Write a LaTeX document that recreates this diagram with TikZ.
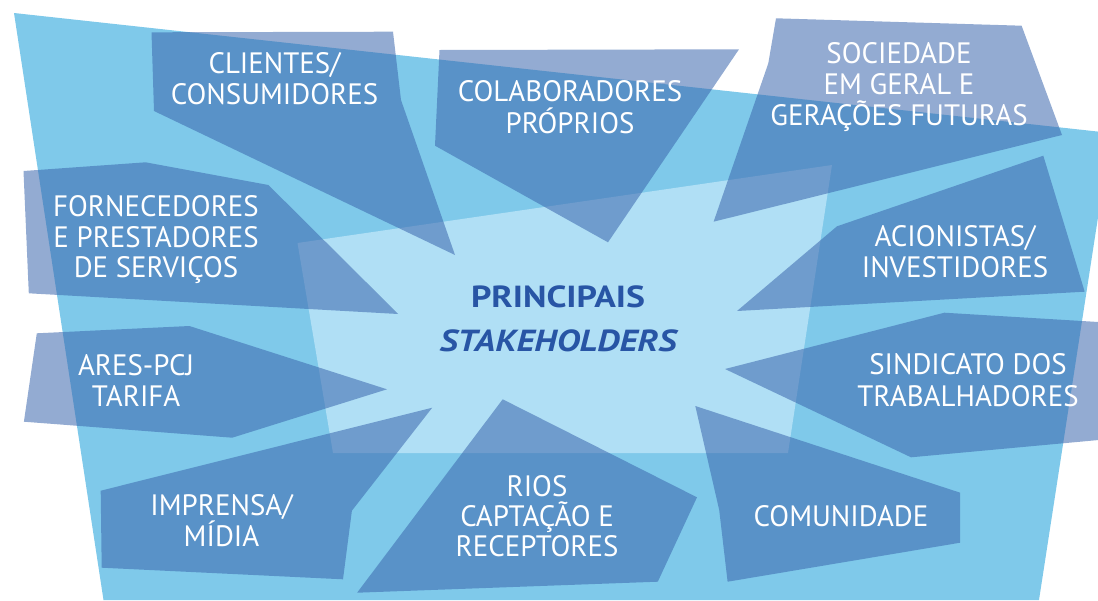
\documentclass[tikz,border=0pt]{standalone}
\usepackage{fontspec}
\setmainfont{PT Sans}[FakeStretch=0.98]
\newfontfamily\ptwide{PT Sans}[FakeStretch=1.17]
\definecolor{lb}{RGB}{127,201,234}
\definecolor{cz}{RGB}{176,223,245}
\definecolor{db}{RGB}{58,102,173}
\definecolor{tb}{RGB}{40,85,165}
\newcommand\mlines[2][31pt]{\vtop{\lineskiplimit=-100pt\relax\baselineskip=#1\relax\halign{\hfil##\hfil\cr#2\crcr}}}
\tikzset{
  bgblue/.style={fill=lb, draw=none},
  centerzone/.style={fill=cz, draw=none},
  stakebox/.style={fill=db, fill opacity=0.55, draw=none},
  lbl/.style={text=white, anchor=base, inner sep=0pt, font=\fontsize{29.5}{31}\selectfont},
  mainlbl/.style={text=tb, anchor=base, inner sep=0pt, font=\ptwide\fontsize{30.5}{44}\selectfont}
}
\begin{document}
\begin{tikzpicture}[x=1pt,y=-1pt]
\useasboundingbox (0,0) rectangle (1098,600);
\clip (0,0) rectangle (1098,600);
% backgrounds
\fill[bgblue] (14,13) -- (1111,133) -- (1039,600) -- (103.5,600) -- cycle;
\fill[centerzone] (297.5,243) -- (832,165) -- (788,453) -- (333,453) -- cycle;
% stakeholder shapes
\fill[stakebox] (151.5,32.3) -- (393,31.7) -- (401,100) -- (455,255) -- (154,111) -- cycle;
\fill[stakebox] (439.5,50) -- (739,49.3) -- (608,242.3) -- (435,145.7) -- cycle;
\fill[stakebox] (776,18.3) -- (1021.6,25.7) -- (1062,135) -- (713.6,221.7) -- (768.3,63.3) -- cycle;
\fill[stakebox] (1043.3,155.7) -- (1084.7,291.7) -- (737,311) -- (837,226.3) -- cycle;
\fill[stakebox] (725,369) -- (944.4,312.7) -- (1115,323) -- (1115,438.5) -- (911,457.3) -- cycle;
\fill[stakebox] (695.3,406) -- (960.2,492.7) -- (960.2,542.7) -- (727.6,581.7) -- (719.2,510) -- cycle;
\fill[stakebox] (502.7,399.3) -- (697,497.3) -- (657.8,581.7) -- (357.1,592.7) -- cycle;
\fill[stakebox] (100.7,490.7) -- (432.2,407.7) -- (351.9,510.7) -- (343,579.3) -- (101.7,567.7) -- cycle;
\fill[stakebox] (36.8,333.3) -- (189.4,326) -- (387,389.3) -- (232.2,437.7) -- (23.9,421.7) -- cycle;
\fill[stakebox] (23.5,171) -- (145.6,162.3) -- (268.4,185) -- (398.2,314) -- (28.8,293.3) -- cycle;
% labels
\node[lbl] (cli) at (274.5,73.3) {\mlines[30.7pt]{CLIENTES/\cr CONSUMIDORES}};
\node[lbl] (col) at (570,101.7) {\mlines[31.6pt]{COLABORADORES\cr PRÓPRIOS}};
\node[lbl] (soc) at (899,63.3) {\mlines[30.9pt]{SOCIEDADE\cr EM GERAL E\cr GERAÇÕES FUTURAS}};
\node[lbl] (aci) at (955,246.7) {\mlines[30.6pt]{ACIONISTAS/\cr INVESTIDORES}};
\node[lbl] (sin) at (968,374) {\mlines[32pt]{SINDICATO DOS\cr TRABALHADORES}};
\node[lbl] (com) at (841,526) {COMUNIDADE};
\node[lbl] (rio) at (537,496.7) {\mlines[30pt]{RIOS\cr CAPTAÇÃO E\cr RECEPTORES}};
\node[lbl] (imp) at (221.5,515) {\mlines[31pt]{IMPRENSA/\cr MÍDIA}};
\node[lbl] (are) at (136,375) {\mlines[31pt]{ARES-PCJ\cr TARIFA}};
\node[lbl] (for) at (156,216.7) {\mlines[30.5pt]{FORNECEDORES\cr E PRESTADORES\cr DE SERVIÇOS}};
\node[mainlbl] (main) at (558,307.3) {\mlines[44.4pt]{\bfseries PRINCIPAIS\cr\bfseries\itshape STAKEHOLDERS}};
\end{tikzpicture}
\end{document}
